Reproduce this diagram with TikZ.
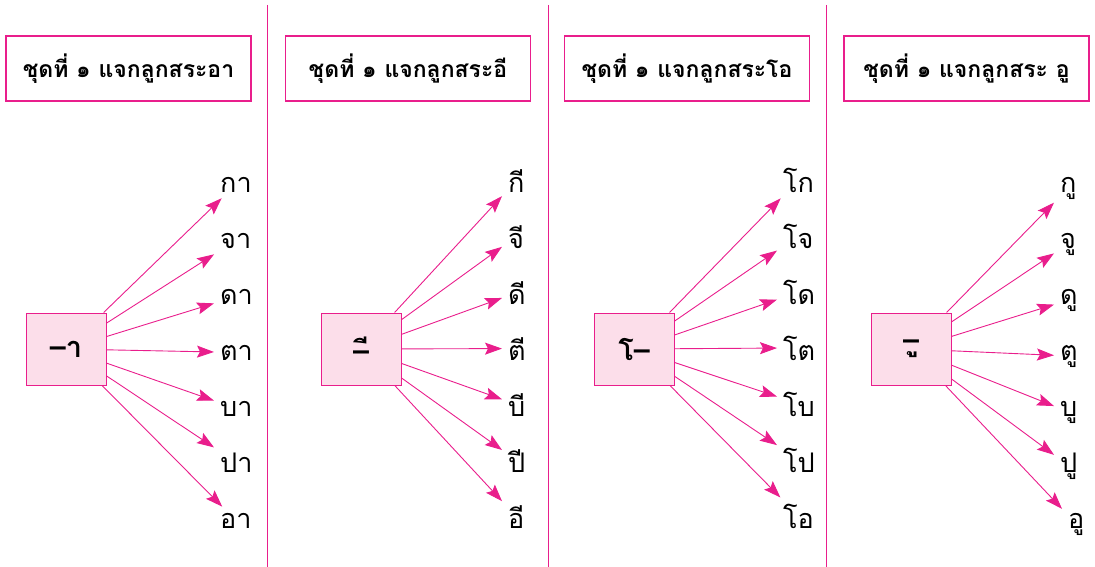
\documentclass[tikz,border=0pt]{standalone}
\usepackage{fontspec}
\newfontfamily\thai[Script=Thai]{Loma}
\usetikzlibrary{arrows.meta}
\definecolor{pinkline}{RGB}{233,30,140}
\definecolor{pinkfill}{RGB}{252,222,234}

\begin{document}
\begin{tikzpicture}[x=1pt, y=-1pt,
    titlebox/.style={draw=pinkline, line width=1.2pt, minimum width=245pt, minimum height=65pt,
        inner sep=0pt, font=\thai\bfseries\fontsize{23}{26}\selectfont},
    vowelbox/.style={draw=pinkline, fill=pinkfill, line width=1pt, minimum width=80pt,
        minimum height=72pt, inner sep=0pt, font=\thai\bfseries\fontsize{29}{31}\selectfont},
    syl/.style={anchor=base west, inner sep=6pt, font=\thai\fontsize{27}{29}\selectfont},
    fan/.style={draw=pinkline, line width=0.9pt, -{Stealth[length=17pt,width=12pt,inset=3pt]}},
    divider/.style={pinkline, line width=1pt}
]
    \useasboundingbox (0,0) rectangle (1095,567);

    % dividers between the four sets
    \draw[divider] (267,5) -- (267,567);
    \draw[divider] (548,5) -- (548,567);
    \draw[divider] (826,5) -- (826,567);

    % set 1: sara aa
    \node[titlebox] (t1) at (128.5,68.5) {ชุดที่ ๑ แจกลูกสระอา};
    \node[vowelbox] (v1) at (66,349) {–า};
    \foreach \s [count=\i] in {กา,จา,ดา,ตา,บา,ปา,อา}
        \node[syl] (aa\i) at (214,{136+56*\i}) {\s};
    \foreach \i in {1,...,7}
        \draw[fan] (v1) -- (aa\i);

    % set 2: sara ii
    \node[titlebox] (t2) at (408,68.5) {ชุดที่ ๑ แจกลูกสระอี};
    \node[vowelbox] (v2) at (361,349) {–ี};
    \foreach \s [count=\i] in {กี,จี,ดี,ตี,บี,ปี,อี}
        \node[syl] (ii\i) at (502,{136+56*\i}) {\s};
    \foreach \i in {1,...,7}
        \draw[fan] (v2) -- (ii\i);

    % set 3: sara oo
    \node[titlebox] (t3) at (687,68.5) {ชุดที่ ๑ แจกลูกสระโอ};
    \node[vowelbox] (v3) at (634,349) {โ–};
    \foreach \s [count=\i] in {โก,โจ,โด,โต,โบ,โป,โอ}
        \node[syl] (oo\i) at (777,{136+56*\i}) {\s};
    \foreach \i in {1,...,7}
        \draw[fan] (v3) -- (oo\i);

    % set 4: sara uu
    \node[titlebox] (t4) at (966.5,68.5) {ชุดที่ ๑ แจกลูกสระ อู};
    \node[vowelbox] (v4) at (911,349) {–ู};
    \foreach \s/\dx [count=\i] in {กู/0,จู/0,ดู/0,ตู/0,บู/0,ปู/0,อู/8}
        \node[syl] (uu\i) at ({1054+\dx},{136+56*\i}) {\s};
    \foreach \i in {1,...,7}
        \draw[fan] (v4) -- (uu\i);
\end{tikzpicture}
\end{document}
